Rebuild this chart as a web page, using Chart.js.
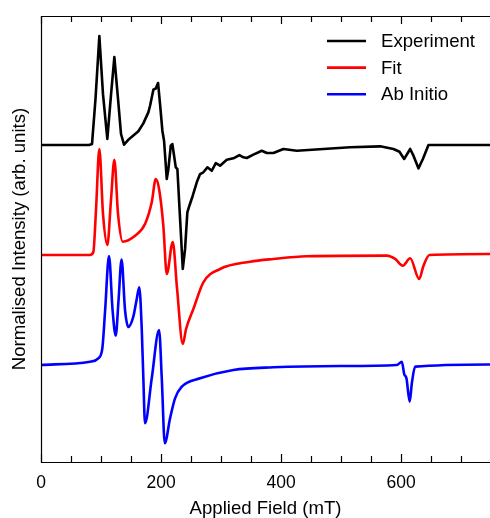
<!DOCTYPE html>
<html lang="en">
  <head>
    <meta charset="utf-8" />
    <title>EPR spectra</title>
    <script src="https://cdn.jsdelivr.net/npm/chart.js@4.4.1/dist/chart.umd.min.js"></script>
    <style>
      * {
        margin: 0;
        padding: 0;
      }
      body {
        background: #ffffff;
      }
      .wrap {
        position: relative;
        width: 490px;
        height: 518px;
      }
    </style>
  </head>
  <body>
    <div class="wrap">
      <canvas id="chart"></canvas>
    </div>
    <script>
      // series names and colours
      const seriesNames = ["Experiment", "Fit", "Ab Initio"];
      const seriesColors = ["#000000", "#ff0000", "#0000ff"];
      // vertical offset of each trace (arb. units)
      const offsets = [2, 1, 0];

      // x axis ticks (mT): every 50, labelled every 200
      const tickValues = [0, 50, 100, 150, 200, 250, 300, 350, 400, 450, 500, 550, 600, 650, 700];
      const tickLabels = ["0", "", "", "", "200", "", "", "", "400", "", "", "", "600", "", ""];

      // Experiment: field (mT) / signal
      const fieldExp = [0, 80, 85, 90.8, 97.2, 103.3, 110.5, 116.7, 122.2, 128.3, 133.3, 138.3, 145, 162.2, 170.5, 178.8, 181.7, 187.2, 191.2, 195, 198.3, 202.2, 205, 209.5, 212.2, 216.2, 218.8, 221.7, 224.5, 227.2, 231.7, 236.2, 240, 243.8, 247.2, 252.8, 259.5, 265, 270.5, 277.2, 284.5, 291.2, 298.3, 309.5, 320.5, 330.5, 337.2, 342.8, 353.8, 367.8, 376.2, 387.2, 403.8, 426.2, 470.5, 515, 565, 587.2, 597.2, 605, 615, 620.5, 628.8, 636.2, 645.5, 748];
      const sigExp = [0, 0, 0.01, 0.42, 0.99, 0.46, 0.055, 0.46, 0.8, 0.42, 0.1, 0.003, 0.045, 0.125, 0.197, 0.297, 0.357, 0.503, 0.514, 0.564, 0.373, 0.13, 0.039, -0.309, -0.218, -0.006, 0.009, -0.097, -0.203, -0.218, -0.673, -1.127, -0.945, -0.612, -0.552, -0.461, -0.339, -0.264, -0.248, -0.203, -0.234, -0.164, -0.188, -0.134, -0.121, -0.091, -0.112, -0.118, -0.088, -0.052, -0.073, -0.073, -0.036, -0.052, -0.036, -0.021, -0.012, -0.036, -0.061, -0.127, -0.036, -0.097, -0.212, -0.127, 0, 0];

      // Fit
      const fieldFit = [0, 81.7, 87.2, 91.7, 97.2, 103.3, 110.5, 116.7, 122.2, 128.3, 136.2, 156.7, 173.3, 184.5, 191.2, 196.7, 203.8, 209.5, 219.5, 226.7, 236.2, 241.7, 253.8, 270.5, 298.3, 348.3, 387.2, 442.8, 576.2, 590, 602.8, 615, 630, 637.2, 647.2, 748];
      const sigFit = [0, 0, 0.027, 0.418, 0.964, 0.373, 0.091, 0.509, 0.866, 0.373, 0.121, 0.175, 0.282, 0.479, 0.691, 0.6, 0.266, -0.173, 0.118, -0.309, -0.809, -0.673, -0.491, -0.248, -0.127, -0.061, -0.036, -0.012, -0.006, -0.036, -0.097, -0.03, -0.218, -0.097, 0, 0.009];

      // Ab initio
      const fieldAb = [0, 81.7, 95.5, 102.2, 106.7, 113.3, 119.2, 124.5, 129.2, 134.2, 140, 145.5, 153.8, 159.2, 163.7, 167.8, 170.5, 173.3, 184.5, 196.7, 201.2, 206.2, 215, 223.3, 234.5, 265, 320.5, 387.2, 498.3, 592.8, 601.2, 605, 608.8, 614.2, 617.8, 623.3, 748];
      const sigAb = [0, 0.03, 0.061, 0.152, 0.485, 0.991, 0.5, 0.268, 0.591, 0.959, 0.5, 0.345, 0.439, 0.591, 0.707, 0.334, -0.121, -0.53, -0.121, 0.318, -0.121, -0.712, -0.485, -0.303, -0.197, -0.121, -0.045, -0.021, -0.009, 0, 0.03, -0.082, -0.121, -0.334, -0.166, -0.015, 0.005];

      const fields = [fieldExp, fieldFit, fieldAb];
      const signals = [sigExp, sigFit, sigAb];

      const FONT = "'Liberation Sans', Arial, Helvetica, sans-serif";

      const datasets = seriesNames.map((name, i) => ({
        label: name,
        data: fields[i].map((f, j) => ({ x: f, y: signals[i][j] + offsets[i] })),
        borderColor: seriesColors[i],
        borderWidth: 2.6,
        borderJoinStyle: "round",
        pointRadius: 0,
        fill: false,
        tension: 0,
        cubicInterpolationMode: i === 0 ? "default" : "monotone",
      }));

      // box lines, inward ticks and legend
      const framePlugin = {
        id: "frame",
        afterDraw(chart) {
          const { ctx, chartArea: a, scales } = chart;
          const xs = scales.x;
          ctx.save();
          ctx.strokeStyle = "#000";
          ctx.lineWidth = 1.2;
          ctx.beginPath();
          ctx.moveTo(chart.width, a.top + 0.5);
          ctx.lineTo(a.left + 0.5, a.top + 0.5);
          ctx.lineTo(a.left + 0.5, a.bottom + 0.5);
          ctx.lineTo(chart.width, a.bottom + 0.5);
          ctx.stroke();
          tickValues.forEach((v, i) => {
            const px = Math.round(xs.getPixelForValue(v)) + 0.5;
            const len = tickLabels[i] ? 8 : 6;
            ctx.beginPath();
            ctx.moveTo(px, a.bottom);
            ctx.lineTo(px, a.bottom - len);
            ctx.moveTo(px, a.top);
            ctx.lineTo(px, a.top + len);
            ctx.stroke();
          });
          // legend
          ctx.font = "18.6px " + FONT;
          ctx.textBaseline = "middle";
          ctx.fillStyle = "#000";
          chart.data.datasets.forEach((ds, i) => {
            const y = 41 + i * 26.6;
            ctx.strokeStyle = ds.borderColor;
            ctx.lineWidth = 2.6;
            ctx.beginPath();
            ctx.moveTo(327, y);
            ctx.lineTo(366, y);
            ctx.stroke();
            ctx.fillText(ds.label, 381, y + 1);
          });
          ctx.restore();
        },
      };

      new Chart(document.getElementById("chart"), {
        type: "line",
        data: { datasets: datasets },
        plugins: [framePlugin],
        options: {
          responsive: true,
          maintainAspectRatio: false,
          animation: false,
          layout: { padding: { top: 16, right: 0, left: 0, bottom: 0 } },
          plugins: {
            legend: { display: false },
            tooltip: { enabled: false },
          },
          scales: {
            x: {
              type: "linear",
              min: 0,
              max: 748,
              afterBuildTicks: (scale) => {
                scale.ticks = tickValues.map((v) => ({ value: v }));
              },
              afterFit: (scale) => {
                scale.height = 56;
              },
              grid: { display: false, drawTicks: false },
              border: { display: false },
              ticks: {
                autoSkip: false,
                maxRotation: 0,
                padding: 11,
                color: "#000",
                font: { family: FONT, size: 17.5 },
                callback: (v) => tickLabels[tickValues.indexOf(v)] || "",
              },
              title: {
                display: true,
                text: "Applied Field (mT)",
                color: "#000",
                font: { family: FONT, size: 18.6, lineHeight: 1 },
                padding: { top: 0, bottom: 0 },
              },
            },
            y: {
              min: -0.882,
              max: 3.173,
              afterFit: (scale) => {
                scale.width = 41;
              },
              grid: { display: false },
              border: { display: false },
              ticks: { display: false },
              title: {
                display: true,
                text: "Normalised Intensity (arb. units)",
                color: "#000",
                font: { family: FONT, size: 18.6 },
                padding: { top: 9, bottom: 0 },
              },
            },
          },
        },
      });
    </script>
  </body>
</html>
